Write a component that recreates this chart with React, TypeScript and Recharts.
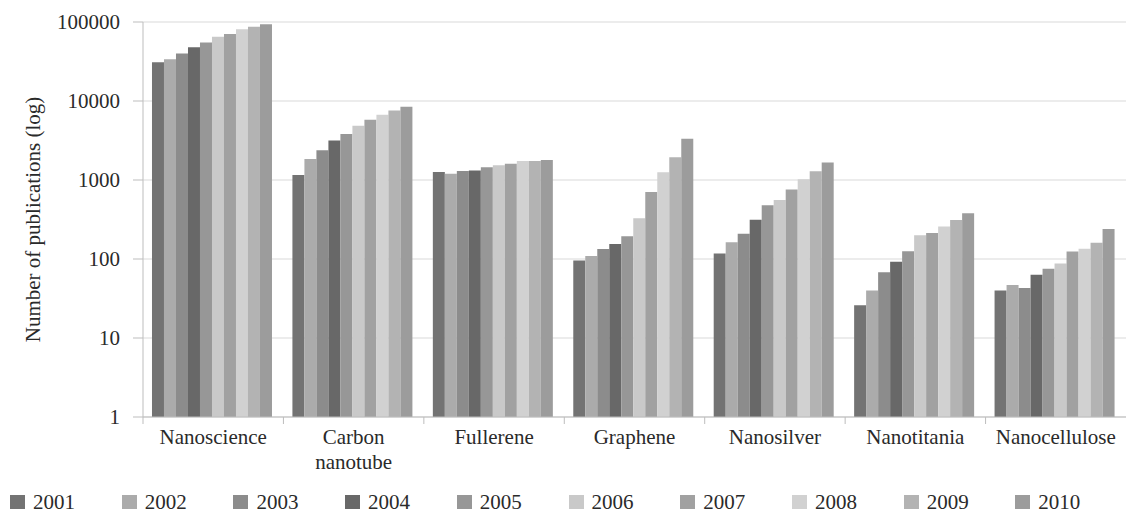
import React from "react";
import { BarChart, Bar, XAxis, YAxis, CartesianGrid, Legend } from "recharts";

if (typeof document !== "undefined") {
  document.body.style.margin = "0";
}

const categories = [
  "Nanoscience",
  "Carbon nanotube",
  "Fullerene",
  "Graphene",
  "Nanosilver",
  "Nanotitania",
  "Nanocellulose",
];

const years = ["2001", "2002", "2003", "2004", "2005", "2006", "2007", "2008", "2009", "2010"];

const v2001 = [31000, 1160, 1260, 96, 117, 26, 40];
const v2002 = [33700, 1850, 1200, 109, 163, 40, 47];
const v2003 = [40000, 2380, 1300, 134, 209, 68, 43];
const v2004 = [48000, 3170, 1320, 155, 314, 92, 63];
const v2005 = [55000, 3820, 1450, 194, 478, 125, 75];
const v2006 = [65000, 4870, 1535, 327, 558, 200, 88];
const v2007 = [70500, 5780, 1610, 705, 760, 213, 124];
const v2008 = [81000, 6710, 1740, 1250, 1020, 257, 135];
const v2009 = [87000, 7600, 1740, 1940, 1290, 311, 161];
const v2010 = [93500, 8470, 1790, 3330, 1660, 379, 240];

const yearValues = [v2001, v2002, v2003, v2004, v2005, v2006, v2007, v2008, v2009, v2010];

const yTicks = [1, 10, 100, 1000, 10000, 100000];

const colors = [
  "#737373",
  "#ababab",
  "#8c8c8c",
  "#686868",
  "#979797",
  "#c9c9c9",
  "#a1a1a1",
  "#d1d1d1",
  "#b3b3b3",
  "#9c9c9c",
];

const data = categories.map((name, i) => {
  const row: Record<string, any> = { name };
  years.forEach((y, j) => {
    row[y] = yearValues[j][i];
  });
  return row;
});

const FONT = "'Liberation Serif', 'Times New Roman', serif";
const TEXT = "#2a2a2a";
const AXIS = "#bdbdbd";
const FS = 21;

const XTick = (props: any) => {
  const { x, y, payload } = props;
  const half = payload && payload.offset ? payload.offset : 70.2;
  const words: string[] = String(payload.value).split(" ");
  return (
    <g>
      <line x1={x - half} y1={y - 8} x2={x - half} y2={y - 1} stroke={AXIS} />
      {words.map((w, k) => (
        <text
          key={k}
          x={x}
          y={y + 19 + k * 25}
          textAnchor="middle"
          fontFamily={FONT}
          fontSize={FS}
          fill={TEXT}
        >
          {w}
        </text>
      ))}
    </g>
  );
};

const LegendContent = (props: any) => {
  const { payload } = props;
  return (
    <div style={{ display: "flex", paddingLeft: 10 }}>
      {(payload || []).map((entry: any, i: number) => (
        <div
          key={i}
          style={{
            width: 112.5,
            display: "flex",
            alignItems: "center",
            fontFamily: FONT,
            fontSize: FS,
            color: TEXT,
            height: 24,
          }}
        >
          <span
            style={{
              display: "inline-block",
              width: 15,
              height: 14,
              background: entry.color,
              marginRight: 8,
            }}
          />
          <span>{entry.value}</span>
        </div>
      ))}
    </div>
  );
};

export default function App() {
  return (
    <div style={{ width: 1127, height: 516, background: "#fff" }}>
      <BarChart
        width={1127}
        height={516}
        data={data}
        margin={{ top: 22, right: 1, left: 0, bottom: 25 }}
        barCategoryGap="6.4%"
        barGap={0}
      >
        <CartesianGrid vertical={false} stroke="#d9d9d9" />
        <XAxis
          dataKey="name"
          interval={0}
          tickLine={false}
          axisLine={{ stroke: AXIS }}
          height={50}
          tick={<XTick />}
        />
        <YAxis
          scale="log"
          domain={[1, 100000]}
          ticks={yTicks}
          allowDataOverflow
          width={143}
          tickSize={10}
          tickMargin={13}
          tickLine={{ stroke: AXIS }}
          axisLine={{ stroke: AXIS }}
          tick={{ fontFamily: FONT, fontSize: FS, fill: TEXT }}
          label={(p: any) => {
            const vb = p.viewBox || { x: 0, y: 22, width: 143, height: 395 };
            const cx = 33;
            const cy = vb.y + vb.height / 2;
            return (
              <text
                x={cx}
                y={cy}
                transform={`rotate(-90, ${cx}, ${cy})`}
                textAnchor="middle"
                dominantBaseline="central"
                fontFamily={FONT}
                fontSize={FS}
                fill={TEXT}
              >
                Number of publications (log)
              </text>
            );
          }}
        />
        <Legend
          verticalAlign="bottom"
          content={<LegendContent />}
          wrapperStyle={{ left: 0, bottom: 2, width: 1127 }}
        />
        {years.map((y, j) => (
          <Bar key={y} dataKey={y} fill={colors[j]} isAnimationActive={false} />
        ))}
      </BarChart>
    </div>
  );
}
